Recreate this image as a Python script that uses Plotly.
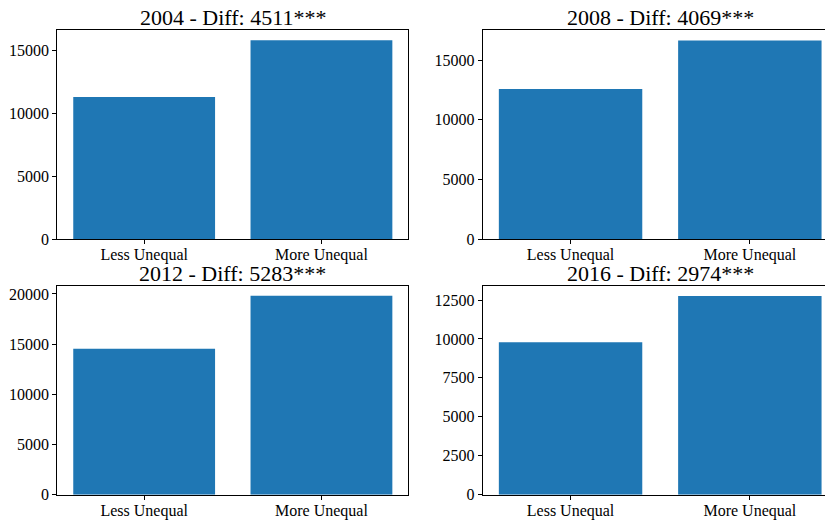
import plotly.graph_objects as go

# Mean values per group for each election year
years = ["2004", "2008", "2012", "2016"]
categories = ["Less Unequal", "More Unequal"]
less_unequal = [11310, 12581, 14537, 9786]
more_unequal = [15821, 16650, 19820, 12760]
diffs = [4511, 4069, 5283, 2974]
stars = ["***", "***", "***", "***"]
y_dticks = [5000, 5000, 5000, 2500]

W, H = 825, 527
FONT = "Liberation Serif, Times New Roman, serif"
BAR_COLOR = "#1f77b4"

# Pixel boxes of the four panels (left, right, top, bottom); right column runs past the page edge
panels = [
    (57.3, 408.3, 30.7, 243.3),
    (482.7, 837.7, 31.0, 243.3),
    (57.3, 408.3, 290.8, 503.3),
    (482.7, 837.7, 291.0, 503.3),
]

fig = go.Figure()
annotations = []

for i, (yr, lo, hi, d, s, dt) in enumerate(zip(years, less_unequal, more_unequal, diffs, stars, y_dticks)):
    n = i + 1
    xa = "x" if n == 1 else f"x{n}"
    ya = "y" if n == 1 else f"y{n}"
    fig.add_trace(go.Bar(
        x=categories, y=[lo, hi], width=0.8,
        marker=dict(color=BAR_COLOR, line=dict(width=0)),
        xaxis=xa, yaxis=ya, showlegend=False,
    ))

    left, right, top, bottom = panels[i]
    x0 = left / W
    clipped = right > W
    vis_right = min(right, W)
    x1 = vis_right / W
    # data range spans -0.49..1.49; clip at the page edge for the right column
    full_span = 1.98
    px_per_unit = (right - left) / full_span
    xmax = -0.49 + (vis_right - left) / px_per_unit

    xkey = "xaxis" if n == 1 else f"xaxis{n}"
    ykey = "yaxis" if n == 1 else f"yaxis{n}"
    ymax = max(lo, hi) * 1.05
    fig.update_layout(**{
        xkey: dict(
            domain=[x0, x1], anchor=ya, type="category",
            range=[-0.49, xmax],
            showline=True, linecolor="black", linewidth=1, mirror=True,
            ticks="outside", ticklen=4, tickwidth=1, tickcolor="black",
            ticklabelstandoff=-3,
            showgrid=False, zeroline=False,
            tickfont=dict(family=FONT, size=16, color="black"),
            fixedrange=True,
        ),
        ykey: dict(
            domain=[1 - bottom / H, 1 - top / H], anchor=xa,
            range=[0, ymax], dtick=dt, tick0=0, tickformat="d",
            showline=True, linecolor="black", linewidth=1,
            mirror=(not clipped),
            ticks="outside", ticklen=4, tickwidth=1, tickcolor="black",
            showgrid=False, zeroline=False,
            tickfont=dict(family=FONT, size=16, color="black"),
            fixedrange=True,
        ),
    })

    annotations.append(dict(
        text=f"{yr} - Diff: {d}{s}",
        xref=xa, x=0.5, xanchor="center",
        yref="paper", y=1 - top / H, yanchor="bottom", yshift=-2,
        showarrow=False,
        font=dict(family=FONT, size=22, color="black"),
    ))

fig.update_layout(
    width=W, height=H,
    margin=dict(l=0, r=0, t=0, b=0),
    paper_bgcolor="white", plot_bgcolor="white",
    annotations=annotations,
    bargap=0.2,
)

fig.write_html("out.html", config={"displayModeBar": False})
